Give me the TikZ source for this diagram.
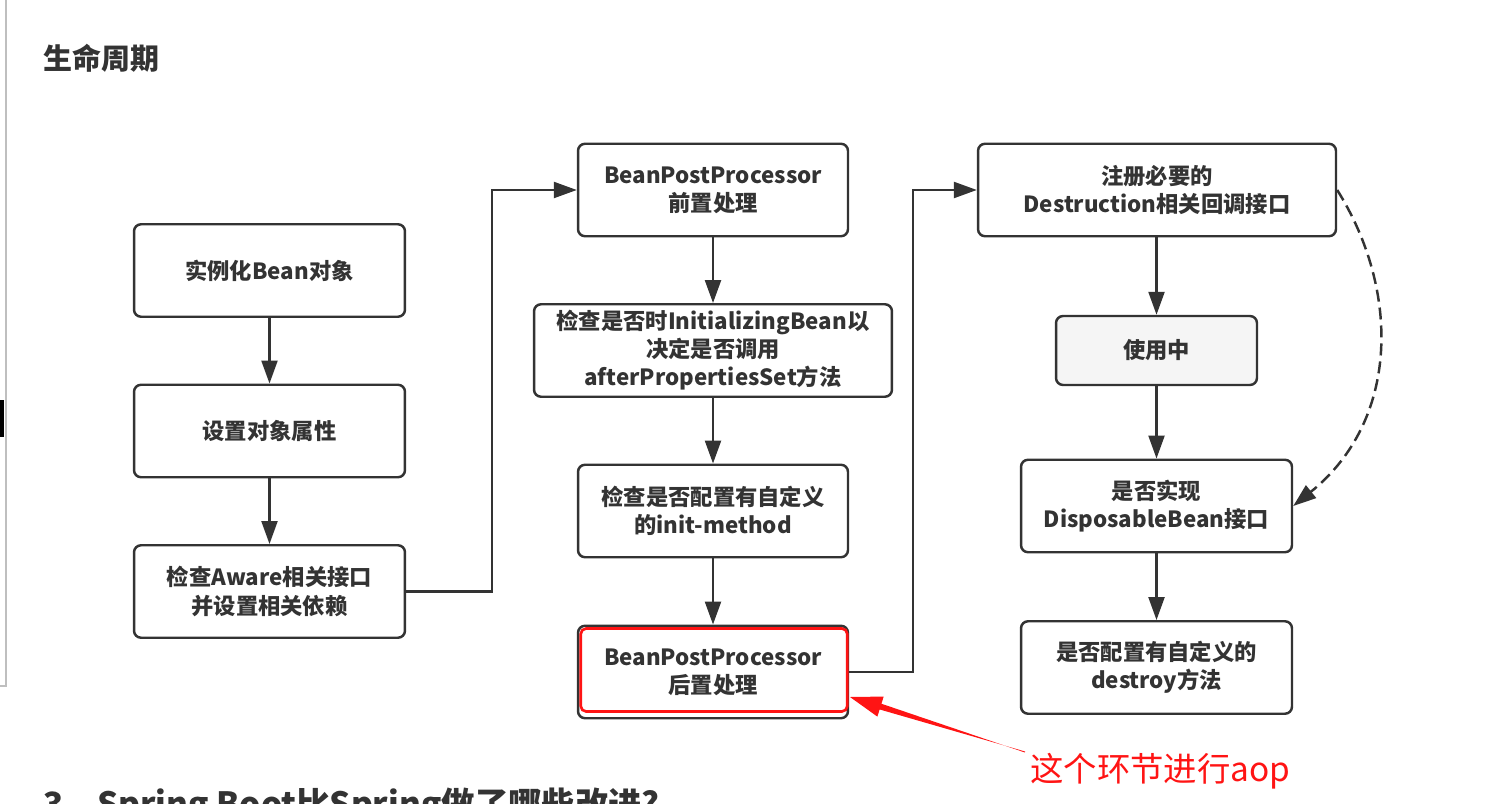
\documentclass[tikz,border=0pt]{standalone}
\usepackage{fontspec}
\setmainfont{Noto Sans CJK SC}
\usetikzlibrary{arrows.meta, positioning, calc}
\definecolor{linecolor}{RGB}{51, 51, 51}
\definecolor{usecolor} {RGB}{245, 245, 245}
\definecolor{notecolor}{RGB}{255, 20, 20}
\tikzset{
	baseblock/.style={
		rectangle, rounded corners=4pt,
		minimum width=5.42cm, minimum height=1.85cm,
		align=center, font=\fontsize{12.7}{16}\selectfont\bfseries,
		text=linecolor, draw=linecolor, line width=1.4pt, fill=white
	},
	arrow/.style={
		-{Triangle[length=0.46cm, width=0.32cm]}, line width=1.3pt, color=linecolor
	},
	dasharrow/.style={
		-{Triangle[length=0.46cm, width=0.32cm]}, dash pattern=on 0.24cm off 0.12cm,
		line width=1.4pt, color=linecolor
	}
}
\begin{document}
\begin{tikzpicture}[x=0.02cm, y=-0.02cm]
	\useasboundingbox (0,0) rectangle (1497,804);
	\clip (0,0) rectangle (1497,804);
	
	%% page edge
	\draw[black!25, line width=1.2pt] (6,0) -- (6,686) -- (0,686);
	\fill[black] (0,400) rectangle (4,437);
	
	%% title
	\node[anchor=west, inner sep=0, font=\fontsize{16.5}{20}\selectfont\bfseries,
	text=linecolor] (title) at (43,58) {生命周期};
	
	%% ═══════════════════════════════
	%%  COLUMN 1
	%% ═══════════════════════════════
	\node[baseblock] (inst) at (269.5,270.5) {实例化Bean对象};
	\node[baseblock] (setprop) at (269.5,431) {设置对象属性};
	\node[baseblock] (aware) at (269.5,591.5) {检查Aware相关接口\\并设置相关依赖};
	
	%% ═══════════════════════════════
	%%  COLUMN 2
	%% ═══════════════════════════════
	\node[baseblock, minimum width=5.4cm] (bppbefore) at (713,190)
	{BeanPostProcessor\\前置处理};
	\node[baseblock, minimum width=7.16cm] (initbean) at (713,350.5)
	{检查是否时InitializingBean以\\决定是否调用\\afterPropertiesSet方法};
	\node[baseblock, minimum width=5.4cm] (initmethod) at (713,511)
	{检查是否配置有自定义\\的init-method};
	\node[baseblock, minimum width=5.4cm] (bppafter) at (713,672)
	{BeanPostProcessor\\后置处理};
	
	% red frame inside the box
	\draw[notecolor, line width=1.5pt, rounded corners=3pt]
	($(bppafter.north west)+(4,4)$) rectangle ($(bppafter.south east)+(-2,-8)$);
	
	%% ═══════════════════════════════
	%%  COLUMN 3
	%% ═══════════════════════════════
	\node[baseblock, minimum width=7.16cm] (destr) at (1157,190)
	{注册必要的\\Destruction相关回调接口};
	\node[baseblock, fill=usecolor, minimum width=4.02cm,
	minimum height=1.38cm] (inuse) at (1156.5,350.5) {使用中};
	\node[baseblock] (disposable) at (1156.5,506)
	{是否实现\\DisposableBean接口};
	\node[baseblock] (destroy) at (1156.5,667.5)
	{是否配置有自定义的\\destroy方法};
	
	% column 1
	\draw[arrow] (inst) -- (setprop);
	\draw[arrow] (setprop) -- (aware);
	\draw[arrow] (aware.east) -- ++(86,0) |- (bppbefore.west);
	
	% column 2
	\draw[arrow] (bppbefore) -- (initbean);
	\draw[arrow] (initbean) -- (initmethod);
	\draw[arrow] (initmethod) -- (bppafter);
	\draw[arrow] (bppafter.east) -- ++(64,0) |- (destr.west);
	
	% column 3
	\draw[arrow] (destr.south -| inuse) -- (inuse);
	\draw[arrow] (inuse) -- (disposable);
	\draw[arrow] (disposable) -- (destroy);
	\draw[dasharrow] (destr.east) .. controls (1400,290) and (1400,420) .. (disposable.east);
	
	%% note on the aop step
	\node[anchor=west, inner sep=0, font=\fontsize{19}{22}\selectfont,
	text=notecolor] (note) at (1030,771) {这个环节进行aop};
	\coordinate (tail) at (1025,752);
	\coordinate (tip) at (850,697);
	\coordinate (hb) at ($(tip)!0.64cm!(tail)$);
	\fill[notecolor] (tip) -- ($(hb)!0.21cm!90:(tip)$) -- ($(hb)!0.06cm!90:(tip)$)
	-- ($(tail)!0.01cm!-90:(tip)$) -- ($(tail)!0.01cm!90:(tip)$)
	-- ($(hb)!0.06cm!-90:(tip)$) -- ($(hb)!0.21cm!-90:(tip)$) -- cycle;
	
	%% next heading, cut by the page edge
	\node[anchor=north west, inner sep=0, font=\fontsize{19}{22}\selectfont\bfseries,
	text=linecolor] (nexthead) at (43,788) {3、Spring Boot比Spring做了哪些改进?};
\end{tikzpicture}
\end{document}
